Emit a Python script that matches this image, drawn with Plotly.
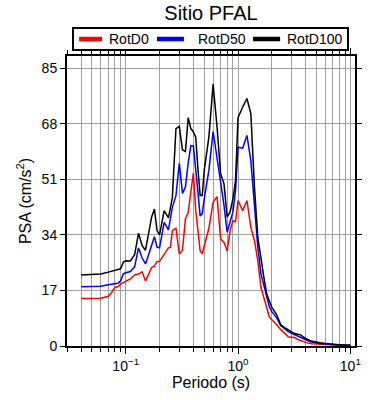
import plotly.graph_objects as go

periods = [0.04, 0.05, 0.06, 0.07, 0.075, 0.08, 0.085, 0.09, 0.095, 0.1,
           0.11, 0.12, 0.13, 0.14, 0.15, 0.16, 0.17, 0.18, 0.19, 0.2,
           0.22, 0.24, 0.25, 0.26, 0.28, 0.3, 0.32, 0.34, 0.36, 0.38,
           0.4, 0.42, 0.44, 0.46, 0.48, 0.5, 0.55, 0.6, 0.65, 0.7,
           0.75, 0.8, 0.85, 0.9, 0.95, 1.0, 1.1, 1.2, 1.3, 1.4,
           1.5, 1.6, 1.7, 1.8, 1.9, 2.0, 2.2, 2.4, 2.6, 2.8,
           3.0, 3.2, 3.4, 3.6, 3.8, 4.0, 4.5, 5.0, 5.5, 6.0,
           7.0, 8.0, 9.0, 10.0]

rotd100 = [21.7, 21.8, 22.0, 22.6, 22.9, 23.2, 23.4, 23.6, 25.6, 26.1,
           26.0, 27.9, 34.5, 30.7, 29.3, 35.0, 39.4, 41.9, 35.3, 34.0,
           41.4, 39.2, 42.5, 45.3, 66.5, 67.2, 60.0, 59.5, 69.8, 66.5,
           65.5, 63.9, 54.0, 46.0, 46.0, 53.7, 63.9, 80.1, 67.0, 52.7,
           49.6, 39.4, 41.0, 45.0, 50.6, 69.8, 73.1, 75.7, 71.1, 48.6,
           33.2, 26.0, 20.9, 15.9, 13.5, 11.8, 9.7, 6.5, 5.6, 4.8,
           4.3, 3.8, 3.6, 3.4, 2.8, 2.3, 1.5, 1.1, 0.9, 0.8,
           0.5, 0.4, 0.3, 0.25]

rotd50 = [18.1, 18.2, 18.3, 18.7, 18.8, 18.9, 19.2, 19.9, 22.0, 22.4,
          22.8, 24.2, 30.0, 26.9, 25.1, 28.0, 30.5, 33.4, 30.2, 30.0,
          37.8, 35.5, 39.0, 42.4, 46.0, 55.9, 46.7, 48.6, 56.0, 61.3,
          61.2, 54.7, 47.0, 39.8, 40.5, 45.0, 53.7, 65.6, 56.7, 50.1,
          43.0, 34.8, 38.0, 41.0, 47.5, 60.8, 60.5, 64.4, 56.7, 43.5,
          30.2, 22.0, 18.5, 14.3, 12.0, 10.5, 8.7, 6.3, 5.3, 4.4,
          3.9, 3.5, 3.2, 2.7, 2.3, 1.9, 1.2, 0.9, 0.7, 0.6,
          0.4, 0.3, 0.25, 0.2]

rotd0 = [14.5, 14.5, 14.6, 15.2, 16.4, 17.9, 18.1, 18.9, 19.3, 19.9,
         20.5, 21.7, 22.0, 22.7, 19.9, 22.0, 24.0, 24.5, 25.8, 25.9,
         27.9, 30.0, 30.2, 35.3, 36.0, 28.1, 29.3, 38.9, 40.9, 47.0,
         52.9, 41.4, 34.0, 29.1, 28.3, 30.5, 36.0, 44.0, 45.7, 32.7,
         31.7, 29.1, 35.3, 38.3, 38.0, 44.5, 41.4, 44.5, 36.3, 32.2,
         26.1, 17.9, 14.5, 11.5, 8.9, 8.0, 6.6, 5.0, 3.8, 2.8,
         2.7, 2.6, 2.0, 1.6, 1.4, 1.1, 0.7, 0.6, 0.5, 0.4,
         0.3, 0.25, 0.2, 0.15]

series_names = ["RotD0", "RotD50", "RotD100"]
series_values = [rotd0, rotd50, rotd100]
series_colors = ["#ff0000", "#0000ff", "#000000"]

y_ticks = [0, 17, 34, 51, 68, 85]
x_major = [0.1, 1, 10]
x_major_text = ["10<sup>\u22121</sup>", "10<sup>0</sup>", "10<sup>1</sup>"]
x_minor = [0.03, 0.04, 0.05, 0.06, 0.07, 0.08, 0.09,
           0.2, 0.3, 0.4, 0.5, 0.6, 0.7, 0.8, 0.9,
           2, 3, 4, 5, 6, 7, 8, 9]

FONT = "Liberation Sans, Arial, Helvetica, sans-serif"

fig = go.Figure()
for name, vals, col in zip(series_names, series_values, series_colors):
    fig.add_trace(go.Scatter(x=periods, y=vals, mode="lines", name=name,
                             line=dict(color=col, width=1.5), showlegend=False))

# Manual legend box (paper coordinates)
fig.add_shape(type="rect", xref="paper", yref="paper",
              x0=0.0208, x1=0.9757, y0=1.0207, y1=1.0966,
              line=dict(color="black", width=2), fillcolor="white")
leg_line_x = [(0.042, 0.122), (0.312, 0.406), (0.646, 0.740)]
leg_text_x = [0.139, 0.447, 0.757]
leg_y = 1.0586
for name, col, (lx0, lx1), tx in zip(series_names, series_colors, leg_line_x, leg_text_x):
    fig.add_shape(type="line", xref="paper", yref="paper",
                  x0=lx0, x1=lx1, y0=leg_y, y1=leg_y,
                  line=dict(color=col, width=4.5))
    fig.add_annotation(text=name, xref="paper", yref="paper", x=tx, y=leg_y,
                       xanchor="left", yanchor="middle", showarrow=False,
                       font=dict(size=14, family=FONT, color="black"))

fig.update_layout(
    width=390, height=400,
    margin=dict(l=67, r=35, t=56, b=54),
    paper_bgcolor="white", plot_bgcolor="white",
    font=dict(family=FONT, size=14, color="black"),
    title=dict(text="Sitio PFAL", x=0.5, xref="paper", xanchor="center",
               y=1 - 13 / 400, yref="container", yanchor="middle",
               font=dict(size=20, family=FONT, color="black")),
    showlegend=False,
)

fig.update_xaxes(
    type="log", range=[-1.5229, 1.0414],
    tickmode="array", tickvals=x_major, ticktext=x_major_text,
    ticks="outside", ticklen=6, tickwidth=1, tickcolor="black",
    showline=True, linecolor="black", linewidth=2, mirror="allticks",
    showgrid=True, gridcolor="#a0a0a0", gridwidth=1,
    minor=dict(tickmode="array", tickvals=x_minor, ticks="outside", ticklen=4,
               tickwidth=1, tickcolor="black", showgrid=True,
               gridcolor="#a0a0a0", gridwidth=1),
    title=dict(text="Periodo (s)", font=dict(size=16, family=FONT), standoff=4),
    tickfont=dict(size=14, family=FONT),
    zeroline=False,
)

fig.update_yaxes(
    range=[0, 88.7],
    tickmode="array", tickvals=y_ticks,
    ticks="outside", ticklen=5, tickwidth=1, tickcolor="black",
    showline=True, linecolor="black", linewidth=2, mirror="allticks",
    showgrid=True, gridcolor="#a0a0a0", gridwidth=1,
    title=dict(text="PSA (cm/s<sup>2</sup>)", font=dict(size=16, family=FONT), standoff=6),
    tickfont=dict(size=14, family=FONT),
    zeroline=False,
)

fig.write_html("out.html", config={"displayModeBar": False},
               post_script="document.body.style.margin='0px';")
